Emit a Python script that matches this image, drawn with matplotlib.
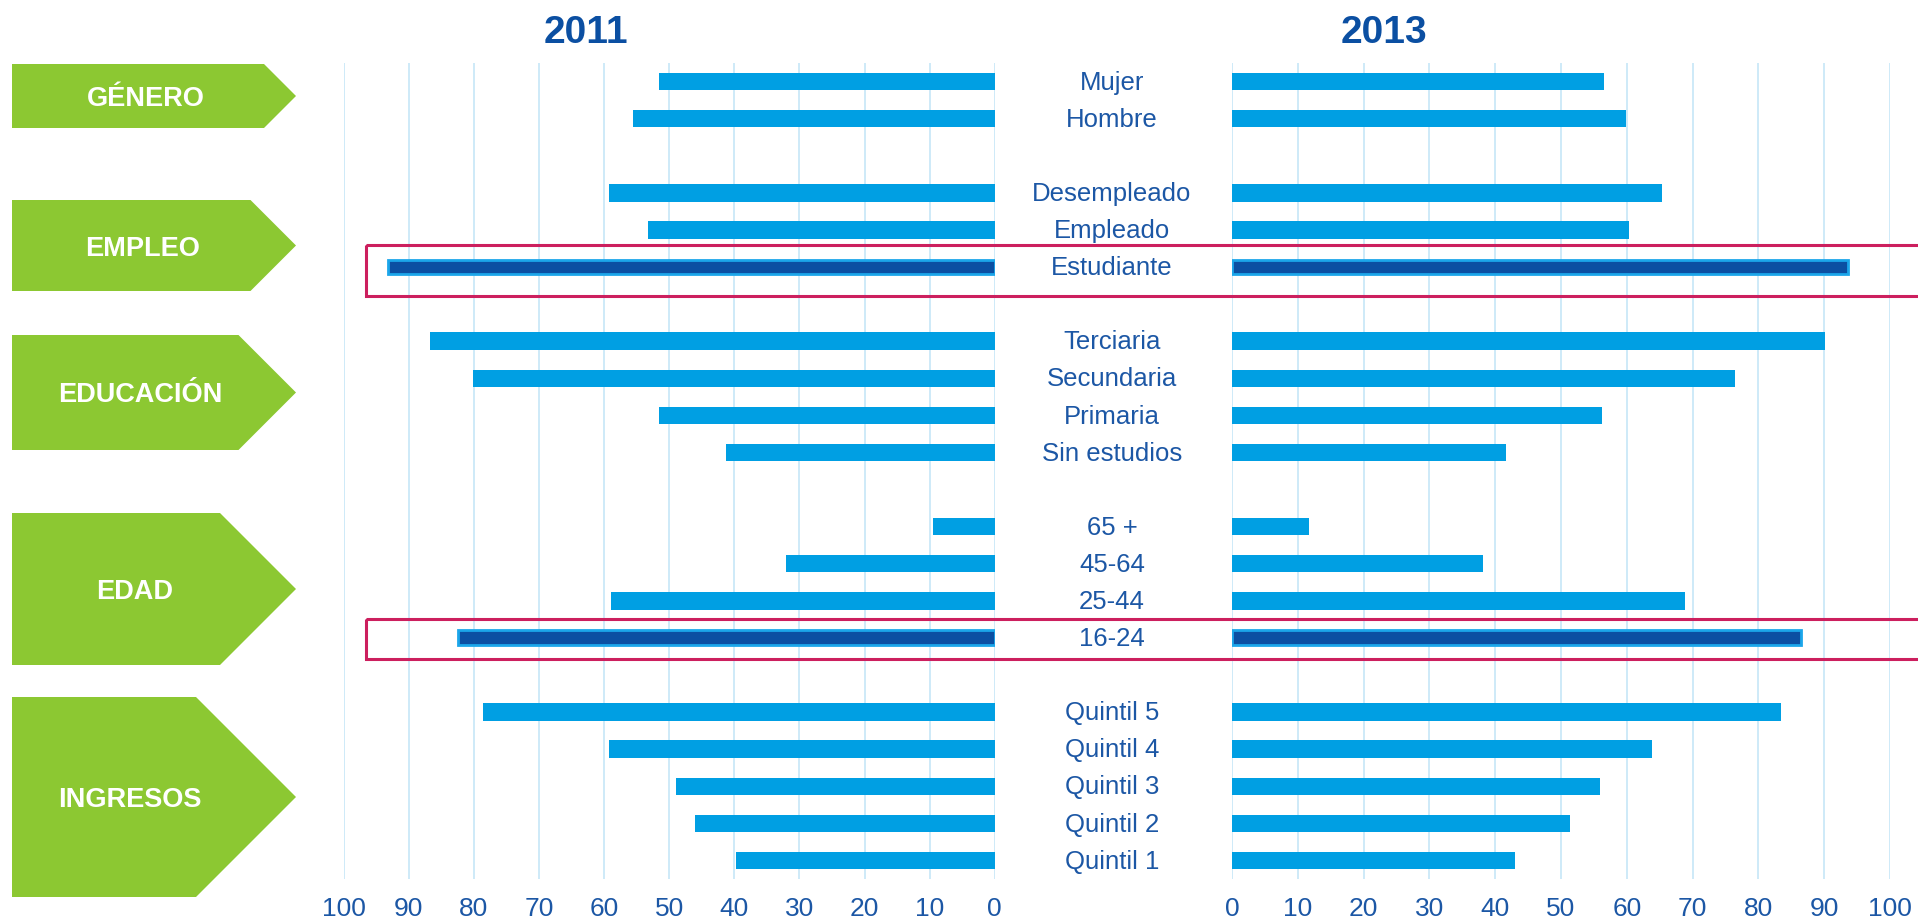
import matplotlib

matplotlib.use("Agg")
import matplotlib.pyplot as plt
import matplotlib.transforms as mtransforms
from matplotlib.patches import Polygon, Rectangle

# data
grupos = ["GÉNERO", "EMPLEO", "EDUCACIÓN", "EDAD", "INGRESOS"]
grupo_antal = [2, 3, 4, 4, 5]
kategorier = [
    "Mujer", "Hombre",
    "Desempleado", "Empleado", "Estudiante",
    "Terciaria", "Secundaria", "Primaria", "Sin estudios",
    "65 +", "45-64", "25-44", "16-24",
    "Quintil 5", "Quintil 4", "Quintil 3", "Quintil 2", "Quintil 1",
]
vaerdier_2011 = [51.5, 55.5, 59.3, 53.2, 93.2, 86.7, 80.1, 51.5, 41.2,
                 9.5, 32.0, 58.9, 82.4, 78.6, 59.2, 49.0, 46.0, 39.8]
vaerdier_2013 = [56.6, 59.9, 65.4, 60.4, 93.6, 90.1, 76.4, 56.2, 41.7,
                 11.7, 38.2, 68.9, 86.4, 83.4, 63.9, 55.9, 51.4, 43.0]
fremhaevet = ["Estudiante", "16-24"]
aar = ["2011", "2013"]

W, H = 1918, 918
BLAA = "#009FE3"
MOERK = "#0B4FA2"
KANT = "#1BA6EA"
TEKST = "#1C57A5"
GRON = "#8CC832"
ROD = "#CC1F5E"
GRID = "#C6E6F7"

plt.rc("font", family=["Liberation Sans", "DejaVu Sans"])

# positions: one empty slot between groups
pos = []
p = 0
for n in grupo_antal:
    pos.extend(range(p, p + n))
    p += n + 1

fig = plt.figure(figsize=(W / 100, H / 100), dpi=100)
ax1 = fig.add_axes([343.7 / W, 1 - 879 / H, 651 / W, 816 / H])
ax2 = fig.add_axes([1232 / W, 1 - 879 / H, 658 / W, 816 / H])

for ax, vals in zip([ax1, ax2], [vaerdier_2011, vaerdier_2013]):
    for y, v, navn in zip(pos, vals, kategorier):
        if navn in fremhaevet:
            ax.barh(y, v, height=0.40, color=MOERK, edgecolor=KANT, linewidth=2.0, zorder=3)
        else:
            ax.barh(y, v, height=0.47, color=BLAA, linewidth=0, zorder=3)
    ax.set_ylim(pos[-1] + 0.5, -0.5)
    ax.set_xticks(range(0, 101, 10))
    ax.set_yticks([])
    ax.grid(axis="x", color=GRID, linewidth=1.2, zorder=0)
    ax.set_axisbelow(True)
    ax.tick_params(axis="x", length=0, pad=13, labelsize=19, labelcolor=TEKST)
    for s in ax.spines.values():
        s.set_visible(False)
ax1.set_xlim(100, 0)
ax2.set_xlim(0, 100)

# category labels in the middle
blend = mtransforms.blended_transform_factory(fig.transFigure, ax1.transData)
for y, navn in zip(pos, kategorier):
    fig.text(1112 / W, y + 0.22, navn, transform=blend, ha="center", va="baseline",
             fontsize=18.5, color=TEKST)

# year titles
for x, t in zip([586, 1384], aar):
    fig.text(x / W, 1 - 42.7 / H, t, ha="center", va="baseline", fontsize=28,
             fontweight="bold", color=MOERK,
             family=["Liberation Sans Narrow", "Liberation Sans", "DejaVu Sans"])

# red highlight boxes
for navn, (top, bund) in zip(fremhaevet, [(-0.59, 0.79), (-0.50, 0.58)]):
    y = pos[kategorier.index(navn)]
    fig.add_artist(Rectangle((366 / W, y + top), 1, bund - top, transform=blend,
                             fill=False, edgecolor=ROD, linewidth=2.2, clip_on=False))

# green arrow labels
pile = [(64, 128), (200, 291), (335, 450), (513, 665), (697, 897)]
tekst_x = [146, 143, 140, 135, 130]
for navn, (top, bund), tx in zip(grupos, pile, tekst_x):
    half = (bund - top) / 2
    mid = top + half
    pts = [(12, top), (296 - half, top), (296, mid), (296 - half, bund), (12, bund)]
    pts = [(x / W, 1 - y / H) for x, y in pts]
    fig.add_artist(Polygon(pts, closed=True, transform=fig.transFigure,
                           facecolor=GRON, edgecolor="none"))
    fig.text(tx / W, 1 - (mid + 10) / H, navn, ha="center", va="baseline",
             fontsize=19.5, fontweight="bold", color="white")

plt.savefig("out.png", dpi=100)
